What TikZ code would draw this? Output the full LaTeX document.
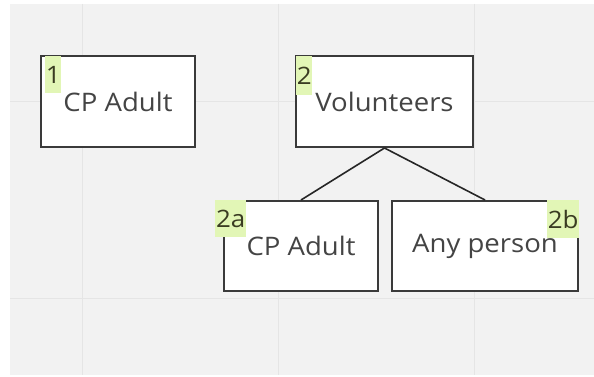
\documentclass[tikz,border=0pt]{standalone}
\usepackage{fontspec}
\setmainfont{Open Sans}[FakeStretch=1.08]
\definecolor{canvas}{RGB}{242,242,242}
\definecolor{gridline}{RGB}{229,229,229}
\definecolor{boxline}{RGB}{58,58,58}
\definecolor{boxtext}{RGB}{68,68,68}
\definecolor{tagfill}{RGB}{226,246,182}
\definecolor{tagtext}{RGB}{58,60,34}
\tikzset{
  card/.style={draw=boxline, line width=2pt, fill=white, inner sep=0pt,
    text=boxtext, font=\fontsize{25.5}{30}\selectfont},
  tag/.style={fill=tagfill, inner sep=0pt, anchor=north west,
    text=tagtext, font=\fontsize{24}{28}\selectfont},
  link/.style={draw=black!85, line width=1.6pt}
}
\begin{document}
\begin{tikzpicture}[x=1pt,y=-1pt]
\useasboundingbox (0,0) rectangle (594,377);
\fill[white] (0,0) rectangle (594,377);
\fill[canvas] (10,4) rectangle (594,375);
% board grid
\foreach \gx in {82,278,474} \draw[gridline, line width=1pt] (\gx,4) -- (\gx,375);
\foreach \gy in {102,298} \draw[gridline, line width=1pt] (10,\gy) -- (594,\gy);

% cards
\node[card, minimum width=154, minimum height=91] (c1) at (118,101.5) {CP Adult};
\node[card, minimum width=177, minimum height=91] (c2) at (384.5,101.5) {Volunteers};
\node[card, minimum width=154, minimum height=90] (c2a) at (301,246) {CP Adult};
\node[card, minimum width=186, minimum height=90] (c2b) at (485,246) {Any person};

% connectors
\draw[link] (c2.south) -- (c2a.north);
\draw[link] (c2.south) -- (c2b.north);

% number tags
\node[tag, minimum width=16, minimum height=37] (t1) at (45,56) {1};
\node[tag, minimum width=16, minimum height=39] (t2) at (296,56) {2};
\node[tag, minimum width=31, minimum height=37] (t2a) at (215,200) {2a};
\node[tag, minimum width=32, minimum height=38] (t2b) at (547,200) {2b};
\end{tikzpicture}
\end{document}
